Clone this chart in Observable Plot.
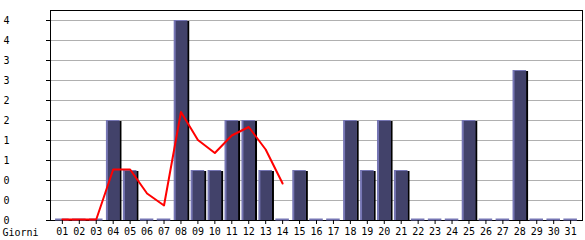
<!DOCTYPE html>
<html>
<head>
<meta charset="utf-8">
<script src="https://cdn.jsdelivr.net/npm/d3@7"></script>
<script src="https://cdn.jsdelivr.net/npm/@observablehq/plot@0.6"></script>
<style>
  html, body { margin: 0; padding: 0; background: white; }
</style>
</head>
<body>
<div id="chart"></div>
<script>
const days = ["01","02","03","04","05","06","07","08","09","10","11","12","13","14","15","16","17","18","19","20","21","22","23","24","25","26","27","28","29","30","31"];
const counts = [0,0,0,2,1,0,0,4,1,1,2,2,1,0,1,0,0,2,1,2,1,0,0,0,2,0,0,3,0,0,0];
const trendDays = ["01","02","03","04","05","06","07","08","09","10","11","12","13","14"];
const trendValues = [0,0,0,1.0,1.0,0.52,0.28,2.15,1.59,1.33,1.68,1.85,1.4,0.72];
const yTicks = [0,0.4,0.8,1.2,1.6,2.0,2.4,2.8,3.2,3.6,4.0];
const yLabels = ["0","0","0","1","1","2","2","3","3","4","4"];
const xTitle = "Giorni";

const bars = days.map((d, i) => ({day: d, value: counts[i]}));
const zeroBars = bars.filter(d => d.value === 0);
const trend = trendDays.map((d, i) => ({day: d, value: trendValues[i]}));

const light = "#7676b4";
const dark = "#42426a";

const chart = Plot.plot({
  width: 585,
  height: 240,
  marginLeft: 50,
  marginRight: 3,
  marginTop: 10,
  marginBottom: 20,
  style: {fontFamily: "'DejaVu Sans Mono', monospace", fontSize: "10px", background: "white", color: "black"},
  x: {type: "band", domain: days, paddingInner: 0.2, paddingOuter: 0.3, round: false},
  y: {domain: [0, 4.2]},
  marks: [
    Plot.gridY(yTicks.slice(1), {stroke: "#b0b0b0", strokeOpacity: 1}),
    Plot.frame({stroke: "black"}),
    Plot.barY(bars, {x: "day", y: "value", fill: "black", dx: 2, dy: 1}),
    Plot.barY(bars, {x: "day", y: "value", fill: light}),
    Plot.barY(bars, {x: "day", y: "value", fill: dark, insetLeft: 2, insetTop: 1}),
    Plot.tickY(zeroBars, {x: "day", y: "value", stroke: light, strokeWidth: 2, dy: -1}),
    Plot.line(trend, {x: "day", y: "value", stroke: "#ff0000", strokeWidth: 2, dy: -1}),
    Plot.axisY(yTicks, {tickSize: 4, tickPadding: 43, textAnchor: "start", label: null,
      tickFormat: d => yLabels[yTicks.indexOf(d)]}),
    Plot.axisX({tickSize: 4, tickPadding: 3, label: null}),
    Plot.text([xTitle], {frameAnchor: "bottom-left", dx: -48, dy: 12, textAnchor: "start", lineAnchor: "middle"})
  ]
});
document.getElementById("chart").appendChild(chart);
</script>
</body>
</html>
